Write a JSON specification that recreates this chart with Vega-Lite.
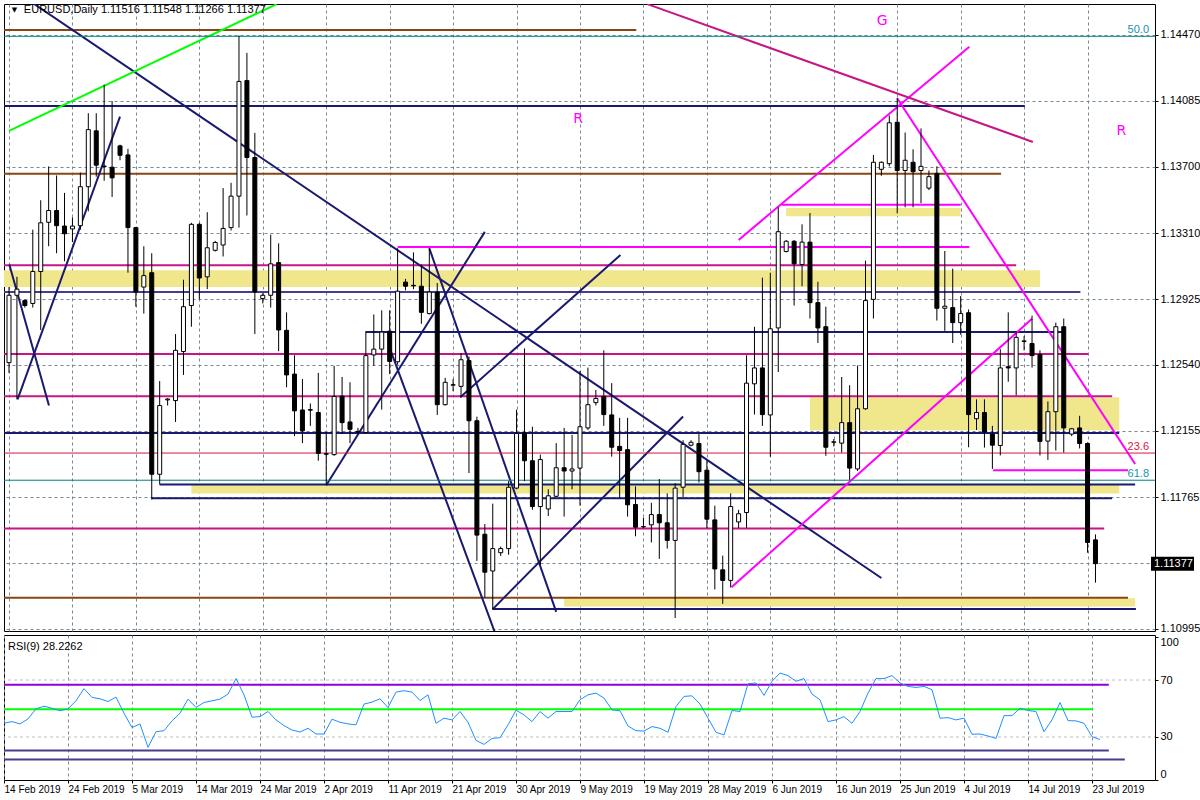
{
  "$schema": "https://vega.github.io/schema/vega-lite/v6.json",
  "background": "white",
  "padding": {"left": 3, "top": 3, "right": 0, "bottom": 0},
  "spacing": 4,
  "bounds": "flush",
  "config": {
    "view": {"stroke": "black", "strokeWidth": 1},
    "font": "Liberation Sans",
    "axis": {"labelFont": "Liberation Sans", "labelFontSize": 11, "labelColor": "black", "domain": false, "tickColor": "black", "gridColor": "#778899", "gridDash": [3, 3], "gridWidth": 1, "labelOverlap": false}
  },
  "resolve": {"scale": {"x": "independent", "y": "independent", "color": "independent"}},
  "datasets": {
    "bars": [
      {"k":0,"o":1.12553,"h":1.12995,"l":1.12493,"c":1.12947,"r":39.6},
      {"k":1,"o":1.12947,"h":1.13055,"l":1.12338,"c":1.12983,"r":40.8},
      {"k":2,"o":1.12916,"h":1.12923,"l":1.12875,"c":1.12887,"r":39.2},
      {"k":3,"o":1.12899,"h":1.13331,"l":1.12875,"c":1.13086,"r":42.7},
      {"k":4,"o":1.13086,"h":1.13503,"l":1.12744,"c":1.13371,"r":49.8},
      {"k":5,"o":1.13374,"h":1.13701,"l":1.13234,"c":1.13443,"r":51.6},
      {"k":6,"o":1.13443,"h":1.13648,"l":1.13193,"c":1.13354,"r":50.2},
      {"k":7,"o":1.13352,"h":1.13546,"l":1.13146,"c":1.13307,"r":48.4},
      {"k":8,"o":1.13335,"h":1.13402,"l":1.13258,"c":1.13352,"r":49.8},
      {"k":9,"o":1.13354,"h":1.13665,"l":1.13331,"c":1.13582,"r":55.4},
      {"k":10,"o":1.13582,"h":1.14012,"l":1.13438,"c":1.13916,"r":63.9},
      {"k":11,"o":1.13909,"h":1.14012,"l":1.13641,"c":1.13708,"r":57.8},
      {"k":12,"o":1.13703,"h":1.14179,"l":1.13617,"c":1.13700,"r":56.8},
      {"k":13,"o":1.13696,"h":1.14083,"l":1.13522,"c":1.13634,"r":54.9},
      {"k":14,"o":1.13821,"h":1.13828,"l":1.13737,"c":1.13766,"r":58.0},
      {"k":15,"o":1.13768,"h":1.13804,"l":1.13079,"c":1.13343,"r":46.7},
      {"k":16,"o":1.13343,"h":1.13347,"l":1.12880,"c":1.12966,"r":36.6},
      {"k":17,"o":1.12995,"h":1.13234,"l":1.12840,"c":1.13062,"r":39.2},
      {"k":18,"o":1.13079,"h":1.13193,"l":1.11752,"c":1.11900,"r":22.7},
      {"k":19,"o":1.11900,"h":1.12445,"l":1.11840,"c":1.12302,"r":33.7},
      {"k":20,"o":1.12335,"h":1.12345,"l":1.12302,"c":1.12340,"r":34.4},
      {"k":21,"o":1.12331,"h":1.12720,"l":1.12206,"c":1.12625,"r":41.3},
      {"k":22,"o":1.12618,"h":1.13038,"l":1.12481,"c":1.12880,"r":46.7},
      {"k":23,"o":1.12887,"h":1.13371,"l":1.12763,"c":1.13362,"r":56.6},
      {"k":24,"o":1.13362,"h":1.13370,"l":1.12923,"c":1.13048,"r":50.7},
      {"k":25,"o":1.13055,"h":1.13433,"l":1.12983,"c":1.13225,"r":54.2},
      {"k":26,"o":1.13210,"h":1.13265,"l":1.13203,"c":1.13256,"r":55.4},
      {"k":27,"o":1.13241,"h":1.13574,"l":1.13174,"c":1.13338,"r":56.6},
      {"k":28,"o":1.13343,"h":1.13605,"l":1.13326,"c":1.13527,"r":60.1},
      {"k":29,"o":1.13527,"h":1.14466,"l":1.13343,"c":1.14198,"r":71.0},
      {"k":30,"o":1.14203,"h":1.14365,"l":1.13414,"c":1.13753,"r":59.6},
      {"k":31,"o":1.13753,"h":1.13897,"l":1.12720,"c":1.12966,"r":43.9},
      {"k":32,"o":1.12928,"h":1.12959,"l":1.12899,"c":1.12947,"r":44.3},
      {"k":33,"o":1.12947,"h":1.13302,"l":1.12875,"c":1.13131,"r":47.9},
      {"k":34,"o":1.13138,"h":1.13251,"l":1.12620,"c":1.12744,"r":42.0},
      {"k":35,"o":1.12742,"h":1.12847,"l":1.12409,"c":1.12481,"r":38.0},
      {"k":36,"o":1.12486,"h":1.12596,"l":1.12123,"c":1.12271,"r":34.9},
      {"k":37,"o":1.12276,"h":1.12457,"l":1.12082,"c":1.12154,"r":33.5},
      {"k":38,"o":1.12278,"h":1.12314,"l":1.12183,"c":1.12275,"r":36.1},
      {"k":39,"o":1.12261,"h":1.12493,"l":1.11979,"c":1.12022,"r":32.1},
      {"k":40,"o":1.12020,"h":1.12147,"l":1.11836,"c":1.12017,"r":32.1},
      {"k":41,"o":1.12015,"h":1.12534,"l":1.12008,"c":1.12355,"r":42.5},
      {"k":42,"o":1.12357,"h":1.12469,"l":1.12135,"c":1.12202,"r":40.3},
      {"k":43,"o":1.12206,"h":1.12438,"l":1.12082,"c":1.12163,"r":39.2},
      {"k":44,"o":1.12151,"h":1.12171,"l":1.12135,"c":1.12147,"r":38.5},
      {"k":45,"o":1.12144,"h":1.12737,"l":1.12142,"c":1.12594,"r":53.1},
      {"k":46,"o":1.12598,"h":1.12835,"l":1.12534,"c":1.12632,"r":54.5},
      {"k":47,"o":1.12632,"h":1.12859,"l":1.12278,"c":1.12732,"r":56.8},
      {"k":48,"o":1.12737,"h":1.12859,"l":1.12486,"c":1.12560,"r":50.7},
      {"k":49,"o":1.12558,"h":1.13222,"l":1.12541,"c":1.12971,"r":61.5},
      {"k":50,"o":1.13024,"h":1.13043,"l":1.12976,"c":1.13000,"r":62.5},
      {"k":51,"o":1.13005,"h":1.13198,"l":1.12983,"c":1.13002,"r":61.5},
      {"k":52,"o":1.13000,"h":1.13127,"l":1.12780,"c":1.12847,"r":55.6},
      {"k":53,"o":1.12840,"h":1.13222,"l":1.12835,"c":1.12966,"r":59.6},
      {"k":54,"o":1.12966,"h":1.13019,"l":1.12247,"c":1.12307,"r":39.6},
      {"k":55,"o":1.12307,"h":1.12464,"l":1.12302,"c":1.12438,"r":43.2},
      {"k":56,"o":1.12421,"h":1.12457,"l":1.12386,"c":1.12424,"r":42.0},
      {"k":57,"o":1.12414,"h":1.12608,"l":1.12350,"c":1.12570,"r":47.9},
      {"k":58,"o":1.12565,"h":1.12589,"l":1.11907,"c":1.12213,"r":40.3},
      {"k":59,"o":1.12213,"h":1.12237,"l":1.11393,"c":1.11544,"r":27.6},
      {"k":60,"o":1.11549,"h":1.11609,"l":1.11178,"c":1.11327,"r":24.8},
      {"k":61,"o":1.11334,"h":1.11728,"l":1.11107,"c":1.11465,"r":29.0},
      {"k":62,"o":1.11441,"h":1.11477,"l":1.11422,"c":1.11465,"r":29.5},
      {"k":63,"o":1.11465,"h":1.11860,"l":1.11429,"c":1.11824,"r":38.5},
      {"k":64,"o":1.11819,"h":1.12278,"l":1.11812,"c":1.12139,"r":48.8},
      {"k":65,"o":1.12142,"h":1.12636,"l":1.11860,"c":1.11979,"r":45.5},
      {"k":66,"o":1.11979,"h":1.12178,"l":1.11692,"c":1.11711,"r":40.8},
      {"k":67,"o":1.11711,"h":1.12015,"l":1.11369,"c":1.11986,"r":47.9},
      {"k":68,"o":1.11697,"h":1.11812,"l":1.11656,"c":1.11774,"r":43.2},
      {"k":69,"o":1.11771,"h":1.12082,"l":1.11764,"c":1.11938,"r":47.9},
      {"k":70,"o":1.11938,"h":1.12171,"l":1.11652,"c":1.11919,"r":47.9},
      {"k":71,"o":1.11919,"h":1.12130,"l":1.11812,"c":1.11931,"r":47.9},
      {"k":72,"o":1.11936,"h":1.12505,"l":1.11716,"c":1.12178,"r":56.1},
      {"k":73,"o":1.12171,"h":1.12524,"l":1.12159,"c":1.12307,"r":59.6},
      {"k":74,"o":1.12319,"h":1.12393,"l":1.12302,"c":1.12343,"r":60.8},
      {"k":75,"o":1.12355,"h":1.12625,"l":1.12183,"c":1.12249,"r":57.3},
      {"k":76,"o":1.12247,"h":1.12433,"l":1.12003,"c":1.12058,"r":49.0},
      {"k":77,"o":1.12063,"h":1.12230,"l":1.11764,"c":1.12039,"r":48.4},
      {"k":78,"o":1.12044,"h":1.12230,"l":1.11652,"c":1.11721,"r":37.7},
      {"k":79,"o":1.11723,"h":1.11829,"l":1.11537,"c":1.11590,"r":34.4},
      {"k":80,"o":1.11592,"h":1.11645,"l":1.11585,"c":1.11594,"r":34.2},
      {"k":81,"o":1.11604,"h":1.11733,"l":1.11501,"c":1.11664,"r":37.3},
      {"k":82,"o":1.11664,"h":1.11872,"l":1.11405,"c":1.11616,"r":36.1},
      {"k":83,"o":1.11616,"h":1.11788,"l":1.11465,"c":1.11513,"r":33.3},
      {"k":84,"o":1.11513,"h":1.11848,"l":1.11059,"c":1.11819,"r":51.4},
      {"k":85,"o":1.11824,"h":1.12099,"l":1.11764,"c":1.12075,"r":58.5},
      {"k":86,"o":1.12070,"h":1.12099,"l":1.12063,"c":1.12087,"r":58.9},
      {"k":87,"o":1.12080,"h":1.12135,"l":1.11852,"c":1.11915,"r":53.1},
      {"k":88,"o":1.11924,"h":1.11979,"l":1.11585,"c":1.11637,"r":43.2},
      {"k":89,"o":1.11633,"h":1.11716,"l":1.11226,"c":1.11346,"r":33.3},
      {"k":90,"o":1.11341,"h":1.11424,"l":1.11142,"c":1.11279,"r":31.4},
      {"k":91,"o":1.11279,"h":1.11788,"l":1.11238,"c":1.11711,"r":48.6},
      {"k":92,"o":1.11621,"h":1.11692,"l":1.11585,"c":1.11669,"r":47.9},
      {"k":93,"o":1.11676,"h":1.12596,"l":1.11585,"c":1.12433,"r":67.4},
      {"k":94,"o":1.12429,"h":1.12763,"l":1.12249,"c":1.12522,"r":67.9},
      {"k":95,"o":1.12522,"h":1.13050,"l":1.12183,"c":1.12249,"r":59.2},
      {"k":96,"o":1.12247,"h":1.13079,"l":1.12003,"c":1.12751,"r":69.1},
      {"k":97,"o":1.12756,"h":1.13462,"l":1.12498,"c":1.13319,"r":74.9},
      {"k":98,"o":1.13203,"h":1.13270,"l":1.13198,"c":1.13263,"r":73.1},
      {"k":99,"o":1.13263,"h":1.13270,"l":1.12887,"c":1.13131,"r":69.1},
      {"k":100,"o":1.13127,"h":1.13362,"l":1.13000,"c":1.13258,"r":71.0},
      {"k":101,"o":1.13258,"h":1.13428,"l":1.12811,"c":1.12904,"r":60.1},
      {"k":102,"o":1.12904,"h":1.13026,"l":1.12668,"c":1.12756,"r":56.1},
      {"k":103,"o":1.12763,"h":1.12880,"l":1.12008,"c":1.12058,"r":40.8},
      {"k":104,"o":1.12087,"h":1.12106,"l":1.12063,"c":1.12090,"r":42.0},
      {"k":105,"o":1.12082,"h":1.12469,"l":1.12027,"c":1.12202,"r":44.3},
      {"k":106,"o":1.12202,"h":1.12421,"l":1.11867,"c":1.11936,"r":39.6},
      {"k":107,"o":1.11931,"h":1.12536,"l":1.11919,"c":1.12283,"r":47.9},
      {"k":108,"o":1.12283,"h":1.13150,"l":1.12278,"c":1.12916,"r":60.8},
      {"k":109,"o":1.12923,"h":1.13768,"l":1.12811,"c":1.13725,"r":71.0},
      {"k":110,"o":1.13684,"h":1.13730,"l":1.13646,"c":1.13725,"r":71.0},
      {"k":111,"o":1.13717,"h":1.13999,"l":1.13701,"c":1.13956,"r":73.1},
      {"k":112,"o":1.13959,"h":1.14100,"l":1.13426,"c":1.13677,"r":67.9},
      {"k":113,"o":1.13677,"h":1.13899,"l":1.13462,"c":1.13737,"r":65.5},
      {"k":114,"o":1.13725,"h":1.13801,"l":1.13462,"c":1.13670,"r":64.8},
      {"k":115,"o":1.13677,"h":1.13923,"l":1.13486,"c":1.13701,"r":65.5},
      {"k":116,"o":1.13574,"h":1.13677,"l":1.13562,"c":1.13641,"r":63.2},
      {"k":117,"o":1.13660,"h":1.13701,"l":1.12799,"c":1.12871,"r":43.2},
      {"k":118,"o":1.12871,"h":1.13206,"l":1.12739,"c":1.12883,"r":43.6},
      {"k":119,"o":1.12875,"h":1.13103,"l":1.12668,"c":1.12787,"r":42.0},
      {"k":120,"o":1.12787,"h":1.12943,"l":1.12716,"c":1.12840,"r":43.2},
      {"k":121,"o":1.12845,"h":1.12864,"l":1.12058,"c":1.12249,"r":31.9},
      {"k":122,"o":1.12225,"h":1.12338,"l":1.12159,"c":1.12261,"r":32.1},
      {"k":123,"o":1.12261,"h":1.12338,"l":1.12056,"c":1.12147,"r":30.7},
      {"k":124,"o":1.12135,"h":1.12183,"l":1.11931,"c":1.12070,"r":29.0},
      {"k":125,"o":1.12068,"h":1.12632,"l":1.12010,"c":1.12522,"r":45.0},
      {"k":126,"o":1.12529,"h":1.12847,"l":1.12441,"c":1.12522,"r":45.0},
      {"k":127,"o":1.12522,"h":1.12737,"l":1.12362,"c":1.12701,"r":50.2},
      {"k":128,"o":1.12677,"h":1.12708,"l":1.12625,"c":1.12680,"r":48.6},
      {"k":129,"o":1.12665,"h":1.12828,"l":1.12524,"c":1.12594,"r":47.9},
      {"k":130,"o":1.12601,"h":1.12625,"l":1.12010,"c":1.12092,"r":33.7},
      {"k":131,"o":1.12094,"h":1.12326,"l":1.11984,"c":1.12266,"r":42.0},
      {"k":132,"o":1.12266,"h":1.12787,"l":1.12039,"c":1.12763,"r":54.2},
      {"k":133,"o":1.12763,"h":1.12811,"l":1.12027,"c":1.12171,"r":41.5},
      {"k":134,"o":1.12135,"h":1.12171,"l":1.12123,"c":1.12166,"r":41.3},
      {"k":135,"o":1.12171,"h":1.12242,"l":1.12051,"c":1.12080,"r":39.6},
      {"k":136,"o":1.12080,"h":1.12087,"l":1.11441,"c":1.11501,"r":30.2},
      {"k":137,"o":1.11516,"h":1.11548,"l":1.11266,"c":1.11377,"r":28.23}
    ],
    "zones": [
      {"k1":-1,"k2":130,"p1":1.13093,"p2":1.12995},
      {"k1":98,"k2":120,"p1":1.13457,"p2":1.13409},
      {"k1":101,"k2":140,"p1":1.12350,"p2":1.12158},
      {"k1":23,"k2":140,"p1":1.11840,"p2":1.11788},
      {"k1":70,"k2":142,"p1":1.11174,"p2":1.11126}
    ],
    "segs": [
      {"k1":-1,"p1":1.14499,"k2":79.1,"p2":1.14499,"kind":"brown"},
      {"k1":-1,"p1":1.14462,"k2":145,"p2":1.14462,"kind":"teal"},
      {"k1":-1,"p1":1.14055,"k2":128.1,"p2":1.14055,"kind":"navy"},
      {"k1":-1,"p1":1.13658,"k2":125.1,"p2":1.13658,"kind":"brown"},
      {"k1":97.4,"p1":1.13476,"k2":120,"p2":1.13476,"kind":"magenta"},
      {"k1":49,"p1":1.13230,"k2":121.1,"p2":1.13230,"kind":"magenta"},
      {"k1":-1,"p1":1.13122,"k2":127,"p2":1.13122,"kind":"mvr"},
      {"k1":-1,"p1":1.12966,"k2":135.1,"p2":1.12966,"kind":"slate"},
      {"k1":45,"p1":1.12732,"k2":133.1,"p2":1.12732,"kind":"navy"},
      {"k1":-1,"p1":1.12604,"k2":136.1,"p2":1.12604,"kind":"mvr"},
      {"k1":-1,"p1":1.12357,"k2":139.1,"p2":1.12357,"kind":"mvr"},
      {"k1":-1,"p1":1.12142,"k2":140,"p2":1.12142,"kind":"navy"},
      {"k1":-1,"p1":1.12024,"k2":145,"p2":1.12024,"kind":"red"},
      {"k1":124.1,"p1":1.11924,"k2":141.1,"p2":1.11924,"kind":"magenta"},
      {"k1":-1,"p1":1.11865,"k2":145,"p2":1.11865,"kind":"teal"},
      {"k1":19,"p1":1.11840,"k2":142,"p2":1.11840,"kind":"navy"},
      {"k1":18,"p1":1.11759,"k2":139.1,"p2":1.11759,"kind":"navy"},
      {"k1":-1,"p1":1.11582,"k2":138.1,"p2":1.11582,"kind":"mvr"},
      {"k1":-1,"p1":1.11178,"k2":141.1,"p2":1.11178,"kind":"brown"},
      {"k1":61,"p1":1.11111,"k2":142.1,"p2":1.11111,"kind":"navy"},
      {"k1":0,"p1":1.14751,"k2":110,"p2":1.11293,"kind":"navy"},
      {"k1":0,"p1":1.13909,"k2":33.75,"p2":1.14650,"kind":"lime"},
      {"k1":0.04,"p1":1.13127,"k2":5.04,"p2":1.12302,"kind":"navy"},
      {"k1":1.08,"p1":1.12338,"k2":14,"p2":1.13992,"kind":"navy"},
      {"k1":40,"p1":1.11836,"k2":60,"p2":1.13318,"kind":"navy"},
      {"k1":53,"p1":1.13222,"k2":69,"p2":1.11095,"kind":"navy"},
      {"k1":48,"p1":1.12639,"k2":61.25,"p2":1.10977,"kind":"navy"},
      {"k1":61,"p1":1.11111,"k2":85,"p2":1.12238,"kind":"navy"},
      {"k1":56.9,"p1":1.12351,"k2":77.1,"p2":1.13182,"kind":"navy"},
      {"k1":92,"p1":1.13271,"k2":121.1,"p2":1.14401,"kind":"magenta"},
      {"k1":91.1,"p1":1.11239,"k2":129,"p2":1.12809,"kind":"magenta"},
      {"k1":112,"p1":1.14100,"k2":142,"p2":1.11960,"kind":"magenta"},
      {"k1":80.5,"p1":1.14650,"k2":129.1,"p2":1.13844,"kind":"mvr"}
    ],
    "notes": [
      {"k":110.1,"p":1.14552,"label":"G","kind":"magenta","role":"letter"},
      {"k":71.75,"p":1.13979,"label":"R","kind":"magenta","role":"letter"},
      {"k":140.25,"p":1.13908,"label":"R","kind":"magenta","role":"letter"},
      {"k":143.75,"p":1.14462,"label":"50.0","kind":"fibteal","role":"fib"},
      {"k":143.75,"p":1.12024,"label":"23.6","kind":"red","role":"fib"},
      {"k":143.75,"p":1.11865,"label":"61.8","kind":"fibteal","role":"fib"},
      {"k":1.875,"p":1.14616,"label":"EURUSD,Daily  1.11516 1.11548 1.11266 1.11377","kind":"black","role":"header"},
      {"k":0.7,"p":1.14616,"label":"▼","kind":"black","role":"tri"}
    ],
    "bid": [
      {"k":143.875,"p":1.11377,"label":"1.11377"}
    ],
    "rsiLines": [
      {"k1":-1,"k2":138.1,"v":66.7,"kind":"purple"},
      {"k1":-1,"k2":136.1,"v":49.5,"kind":"green"},
      {"k1":-1,"k2":138.1,"v":20.5,"kind":"slate"},
      {"k1":-1,"k2":140.1,"v":14.2,"kind":"slate"}
    ],
    "rsiLevels": [
      {"k1":-1,"k2":145,"v":70},
      {"k1":-1,"k2":145,"v":30}
    ],
    "rsiNote": [
      {"k":0.5,"v":93.5,"label":"RSI(9) 28.2262"}
    ]
  },
  "vconcat": [
    {
      "width": 1151,
      "height": 627,
      "layer": [
        {
          "data": {"name": "zones"},
          "mark": {"type": "rect", "color": "#F0E68C", "clip": true},
          "encoding": {
            "x": {"field": "k1", "type": "quantitative", "title": null,
                  "scale": {"domain": [0, 143.875], "nice": false, "zero": false},
                  "axis": {"values": [0,4,8,12,16,20,24,28,32,36,40,44,48,52,56,60,64,68,72,76,80,84,88,92,96,100,104,108,112,116,120,124,128,132,136,140], "labels": false, "ticks": false, "grid": true, "title": null}},
            "x2": {"field": "k2"},
            "y": {"field": "p1", "type": "quantitative", "title": null,
                  "scale": {"domain": [1.10983, 1.14651], "nice": false, "zero": false},
                  "axis": {"orient": "right", "values": [1.10995,1.11185,1.1138,1.11575,1.11765,1.1196,1.12155,1.12345,1.1254,1.12735,1.12925,1.1312,1.1331,1.13505,1.137,1.1389,1.14085,1.1428,1.1447],
                           "labelExpr": "datum.value == 1.1138 ? '' : format(datum.value, '.5f')",
                           "grid": true, "tickSize": 3, "labelPadding": 2, "labelOverlap": false, "labelBound": false, "title": null}},
            "y2": {"field": "p2"}
          }
        },
        {
          "data": {"name": "segs"},
          "transform": [{"filter": "datum.kind != 'teal' && datum.kind != 'red'"}],
          "mark": {"type": "rule", "strokeWidth": 2, "clip": true},
          "encoding": {
            "x": {"field": "k1", "type": "quantitative", "title": null},
            "x2": {"field": "k2"},
            "y": {"field": "p1", "type": "quantitative", "title": null},
            "y2": {"field": "p2"},
            "color": {"field": "kind", "type": "nominal", "legend": null,
                      "scale": {"domain": ["navy","brown","mvr","magenta","lime","slate","teal","red","black","fibteal"],
                                "range": ["#191970","#8B4513","#C71585","#FF00FF","#00FF00","#483D8B","#008080","#DC143C","#000000","#2090B0"]}}
          }
        },
        {
          "data": {"name": "segs"},
          "transform": [{"filter": "datum.kind == 'teal' || datum.kind == 'red'"}],
          "mark": {"type": "rule", "strokeWidth": 1, "clip": true},
          "encoding": {
            "x": {"field": "k1", "type": "quantitative", "title": null},
            "x2": {"field": "k2"},
            "y": {"field": "p1", "type": "quantitative", "title": null},
            "y2": {"field": "p2"},
            "color": {"field": "kind", "type": "nominal", "legend": null,
                      "scale": {"domain": ["navy","brown","mvr","magenta","lime","slate","teal","red","black","fibteal"],
                                "range": ["#191970","#8B4513","#C71585","#FF00FF","#00FF00","#483D8B","#008080","#DC143C","#000000","#2090B0"]}}
          }
        },
        {
          "data": {"name": "bars"},
          "mark": {"type": "rule", "color": "black", "strokeWidth": 1, "clip": true},
          "encoding": {
            "x": {"field": "k", "type": "quantitative", "title": null},
            "y": {"field": "l", "type": "quantitative", "title": null},
            "y2": {"field": "h"}
          }
        },
        {
          "data": {"name": "bars"},
          "mark": {"type": "bar", "size": 4, "stroke": "black", "strokeWidth": 1, "clip": true},
          "encoding": {
            "x": {"field": "k", "type": "quantitative", "title": null},
            "y": {"field": "o", "type": "quantitative", "title": null},
            "y2": {"field": "c"},
            "fill": {"condition": {"test": "datum.c >= datum.o", "value": "white"}, "value": "black"}
          }
        },
        {
          "data": {"name": "notes"},
          "transform": [{"filter": "datum.role == 'letter'"}],
          "mark": {"type": "text", "align": "center", "baseline": "middle", "fontSize": 14, "font": "DejaVu Sans"},
          "encoding": {
            "x": {"field": "k", "type": "quantitative", "title": null},
            "y": {"field": "p", "type": "quantitative", "title": null},
            "text": {"field": "label"},
            "color": {"field": "kind", "type": "nominal", "legend": null,
                      "scale": {"domain": ["navy","brown","mvr","magenta","lime","slate","teal","red","black","fibteal"],
                                "range": ["#191970","#8B4513","#C71585","#FF00FF","#00FF00","#483D8B","#008080","#DC143C","#000000","#2090B0"]}}
          }
        },
        {
          "data": {"name": "notes"},
          "transform": [{"filter": "datum.role == 'fib'"}],
          "mark": {"type": "text", "align": "right", "baseline": "bottom", "dy": -1, "fontSize": 11},
          "encoding": {
            "x": {"field": "k", "type": "quantitative", "title": null},
            "y": {"field": "p", "type": "quantitative", "title": null},
            "text": {"field": "label"},
            "color": {"field": "kind", "type": "nominal", "legend": null,
                      "scale": {"domain": ["navy","brown","mvr","magenta","lime","slate","teal","red","black","fibteal"],
                                "range": ["#191970","#8B4513","#C71585","#FF00FF","#00FF00","#483D8B","#008080","#DC143C","#000000","#2090B0"]}}
          }
        },
        {
          "data": {"name": "notes"},
          "transform": [{"filter": "datum.role == 'header'"}],
          "mark": {"type": "text", "align": "left", "baseline": "middle", "fontSize": 11, "color": "black"},
          "encoding": {
            "x": {"field": "k", "type": "quantitative", "title": null},
            "y": {"field": "p", "type": "quantitative", "title": null},
            "text": {"field": "label"}
          }
        },
        {
          "data": {"name": "notes"},
          "transform": [{"filter": "datum.role == 'tri'"}],
          "mark": {"type": "text", "align": "center", "baseline": "middle", "fontSize": 7, "color": "black", "font": "DejaVu Sans"},
          "encoding": {
            "x": {"field": "k", "type": "quantitative", "title": null},
            "y": {"field": "p", "type": "quantitative", "title": null},
            "text": {"field": "label"}
          }
        },
        {
          "data": {"name": "bid"},
          "mark": {"type": "rect", "color": "black", "clip": false, "xOffset": 1, "x2Offset": 44, "yOffset": 7, "y2Offset": -7},
          "encoding": {
            "x": {"field": "k", "type": "quantitative", "title": null},
            "x2": {"field": "k"},
            "y": {"field": "p", "type": "quantitative", "title": null},
            "y2": {"field": "p"}
          }
        },
        {
          "data": {"name": "bid"},
          "mark": {"type": "text", "align": "left", "baseline": "middle", "dx": 4, "color": "white", "fontSize": 11, "clip": false},
          "encoding": {
            "x": {"field": "k", "type": "quantitative", "title": null},
            "y": {"field": "p", "type": "quantitative", "title": null},
            "text": {"field": "label"}
          }
        }
      ]
    },
    {
      "width": 1151,
      "height": 145,
      "layer": [
        {
          "data": {"name": "rsiLevels"},
          "mark": {"type": "rule", "color": "#C0C0C0", "strokeWidth": 1, "strokeDash": [3, 3], "clip": true},
          "encoding": {
            "x": {"field": "k1", "type": "quantitative", "title": null,
                  "scale": {"domain": [0, 143.875], "nice": false, "zero": false},
                  "axis": {"values": [0,4,8,12,16,20,24,28,32,36,40,44,48,52,56,60,64,68,72,76,80,84,88,92,96,100,104,108,112,116,120,124,128,132,136,140],
                           "labelExpr": "datum.value % 8 == 0 ? ['14 Feb 2019','24 Feb 2019','5 Mar 2019','14 Mar 2019','24 Mar 2019','2 Apr 2019','11 Apr 2019','21 Apr 2019','30 Apr 2019','9 May 2019','19 May 2019','28 May 2019','6 Jun 2019','16 Jun 2019','25 Jun 2019','4 Jul 2019','14 Jul 2019','23 Jul 2019'][datum.value / 8] : ''",
                           "labelAlign": "left", "labelBaseline": "top", "labelPadding": 1, "labelFontSize": 10, "tickSize": 3, "grid": true, "labelOverlap": false, "labelFlush": false, "labelBound": false, "title": null}},
            "x2": {"field": "k2"},
            "y": {"field": "v", "type": "quantitative", "title": null,
                  "scale": {"domain": [-0.2, 101.6], "nice": false, "zero": false},
                  "axis": {"orient": "right", "values": [0, 30, 70, 100], "grid": false, "tickSize": 3, "labelPadding": 2, "labelFlush": false, "labelBound": false,
                           "labelOffset": {"condition": [{"test": "datum.value == 100", "value": 5}, {"test": "datum.value == 0", "value": -5}], "value": 0},
                           "title": null}}
          }
        },
        {
          "data": {"name": "rsiLines"},
          "mark": {"type": "rule", "strokeWidth": 2, "clip": true},
          "encoding": {
            "x": {"field": "k1", "type": "quantitative", "title": null},
            "x2": {"field": "k2"},
            "y": {"field": "v", "type": "quantitative", "title": null},
            "color": {"field": "kind", "type": "nominal", "legend": null,
                      "scale": {"domain": ["purple", "green", "slate"], "range": ["#9400D3", "#00FF00", "#483D8B"]}}
          }
        },
        {
          "data": {"name": "bars"},
          "mark": {"type": "line", "color": "#1E90FF", "strokeWidth": 1, "clip": true},
          "encoding": {
            "x": {"field": "k", "type": "quantitative", "title": null},
            "y": {"field": "r", "type": "quantitative", "title": null}
          }
        },
        {
          "data": {"name": "rsiNote"},
          "mark": {"type": "text", "align": "left", "baseline": "middle", "fontSize": 11, "color": "black"},
          "encoding": {
            "x": {"field": "k", "type": "quantitative", "title": null},
            "y": {"field": "v", "type": "quantitative", "title": null},
            "text": {"field": "label"}
          }
        }
      ]
    }
  ]
}
